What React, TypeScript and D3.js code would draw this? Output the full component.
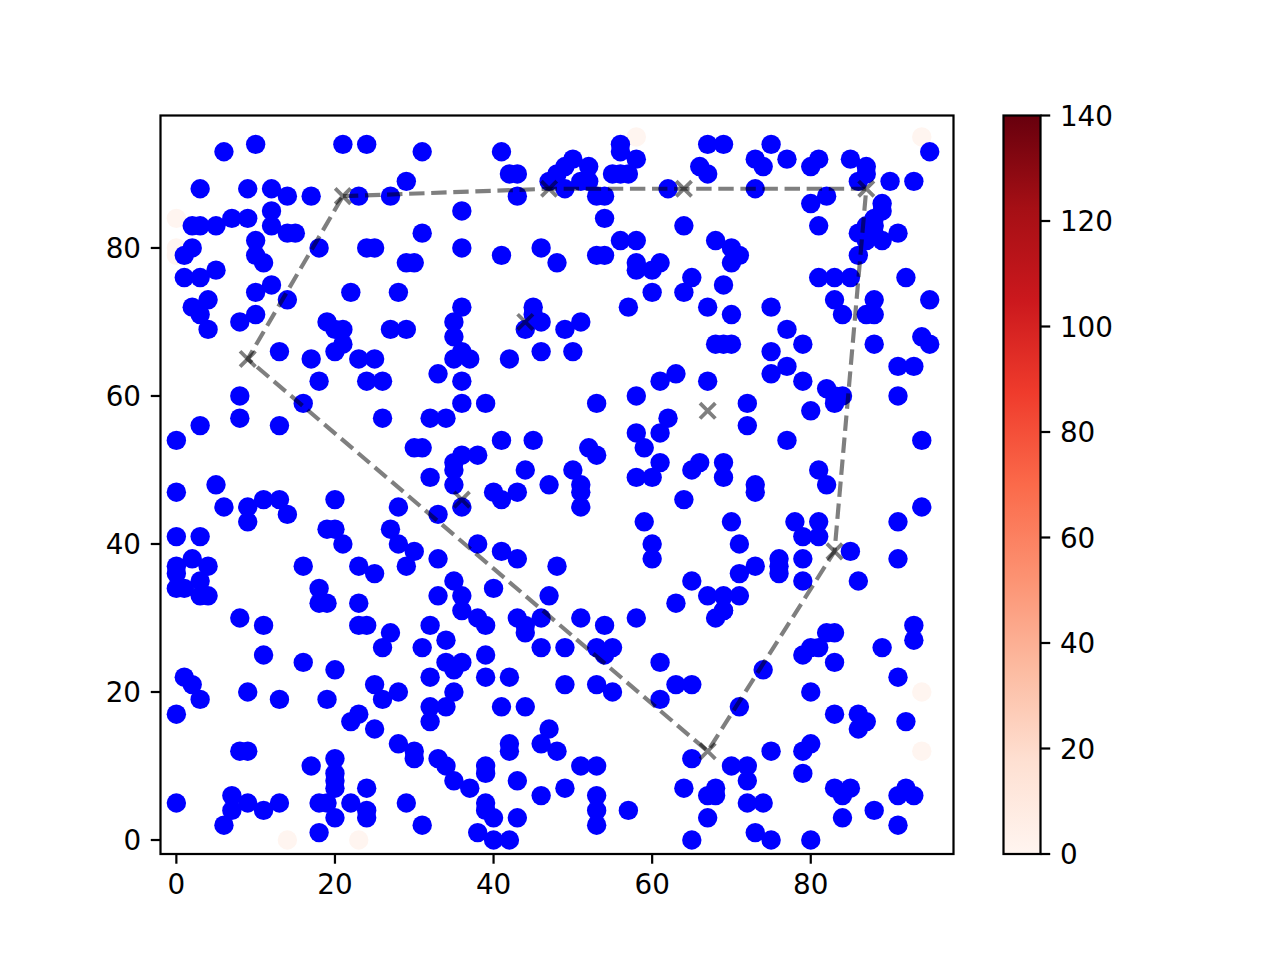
import React from "react";
import * as d3 from "d3";

const xTicks = [0, 20, 40, 60, 80];
const yTicks = [0, 20, 40, 60, 80];
const barTicks = [0, 20, 40, 60, 80, 100, 120, 140];
const redsStops = ["#fff5f0", "#fee0d2", "#fcbba1", "#fc9272", "#fb6a4a", "#ef3b2c", "#cb181d", "#a50f15", "#67000d"];

const faintPoints: [number, number][] = [[0,84],[0,80],[0,79],[14,0],[23,0],[58,95],[94,95],[94,20],[94,12]];

const bluePoints: [number, number][] = [
[6,93],[10,94],[21,94],[24,94],[31,93],[3,88],[9,88],[12,88],[14,87],[17,87],[23,87],[27,87],[29,89],[12,85],[12,83],[2,83],[3,83],[5,83],[7,84],[9,84],[14,82],[15,82],[31,82],[18,80],[24,80],[25,80],[10,81],[10,79],[11,78],[2,80],[1,79],[29,78],[30,78],[1,76],[3,76],[5,77],[12,75],[10,74],[22,74],[28,74],[4,73],[2,72],[3,71],[4,69],[14,73],[10,71],[8,70],[19,70],[20,69],[21,69],[21,67],[20,66],[23,65],[25,65],[27,69],[29,69],[13,66],[17,65],[18,62],[24,62],[26,62],
[41,93],[42,90],[43,90],[43,87],[36,85],[36,80],[41,79],[46,80],[48,78],[36,72],[35,70],[35,68],[36,66],[35,65],[37,65],[42,65],[45,72],[45,71],[46,70],[44,69],[49,69],[51,70],[46,66],[50,66],[57,72],[60,74],[58,78],[58,77],[60,77],[61,78],[53,79],[54,79],[56,81],[58,81],[54,84],[53,87],[54,87],[64,83],[62,88],[64,74],[65,76],[49,88],[47,89],[48,90],[49,91],[50,92],[52,91],[51,89],[52,89],[55,90],[56,90],[57,90],[56,94],[56,93],[58,92],
[67,94],[69,94],[75,94],[73,92],[74,91],[77,92],[81,92],[80,91],[85,92],[87,91],[87,90],[66,91],[67,90],[73,88],[86,89],[90,89],[93,89],[95,93],[82,87],[80,86],[81,83],[89,86],[89,85],[88,84],[88,83],[87,83],[86,82],[87,81],[89,81],[91,82],[88,82],[86,79],[68,81],[70,80],[71,79],[70,78],[69,75],[81,76],[83,76],[85,76],[92,76],[83,73],[84,71],[88,73],[87,71],[88,71],[95,73],[67,72],[70,71],[75,72],[77,69],[79,67],[68,67],[69,67],[70,67],[75,66],[77,64],[88,67],[94,68],[95,67],[91,64],[93,64],
[67,62],[72,59],[72,56],[75,63],[79,62],[82,61],[84,60],[83,59],[83,60],[80,58],[77,54],[91,60],[94,54],[81,50],[82,48],[69,51],[69,49],[66,51],[65,50],[73,48],[73,47],[64,46],[70,43],[71,40],[78,43],[81,43],[79,41],[81,41],[94,45],[91,43],[85,39],[91,38],[79,38],[79,35],[76,38],[76,37],[76,36],[86,35],[73,37],[71,36],[65,35],[67,33],[69,33],[71,33],[69,31],
[33,63],[36,62],[36,59],[39,59],[32,57],[34,57],[53,59],[58,60],[61,62],[63,63],[62,57],[61,55],[58,55],[59,53],[41,54],[45,54],[30,53],[31,53],[36,52],[38,52],[35,51],[35,50],[35,48],[52,53],[53,52],[32,49],[44,50],[50,50],[51,48],[51,47],[51,45],[47,48],[40,47],[43,47],[41,46],[58,49],[60,49],[61,51],[36,45],[33,44],[59,43],[60,40],[60,38],[38,40],[41,39],[43,38],[48,37],[33,38],[35,35],[36,33],[33,33],[40,34],[47,33],[63,32],
[8,60],[8,57],[3,56],[0,54],[13,56],[16,59],[26,57],[0,47],[5,48],[6,45],[9,45],[9,43],[11,46],[13,46],[14,44],[20,46],[28,45],[19,42],[20,42],[21,40],[27,42],[28,40],[30,39],[29,37],[0,41],[3,41],[2,38],[0,37],[4,37],[0,36],[3,35],[0,34],[1,34],[3,33],[4,33],[16,37],[23,37],[25,36],[18,34],[18,32],[19,32],[23,32],
[8,30],[11,29],[11,25],[16,24],[20,23],[23,29],[24,29],[27,28],[26,26],[31,26],[1,22],[2,21],[3,19],[0,17],[9,20],[13,19],[19,19],[23,17],[22,16],[25,15],[25,21],[28,20],[26,19],[32,18],[32,16],[28,13],[30,12],[30,11],[8,12],[9,12],[20,11],[17,10],[20,9],[20,8],[20,7],[24,7],[7,6],[7,4],[9,5],[11,4],[13,5],[0,5],[6,2],[18,5],[19,5],[20,3],[22,5],[24,4],[24,3],[29,5],[31,2],[18,1],
[36,31],[38,30],[39,29],[32,29],[43,30],[44,29],[44,28],[46,30],[51,30],[54,29],[58,30],[34,27],[39,25],[46,26],[49,26],[53,26],[54,25],[55,26],[34,24],[36,24],[35,23],[61,24],[32,22],[39,22],[42,22],[49,21],[53,21],[55,20],[35,20],[34,18],[61,19],[63,21],[65,21],[41,18],[44,18],[47,15],[46,13],[48,12],[42,13],[42,12],[33,11],[34,10],[35,8],[37,7],[39,10],[39,9],[43,8],[51,10],[53,10],[49,7],[46,6],[53,6],[53,4],[53,2],[57,4],[39,5],[39,4],[40,3],[43,3],[38,1],[40,0],[42,0],[64,7],[65,0],[65,11],
[68,30],[69,31],[74,23],[71,18],[70,10],[72,10],[72,8],[75,12],[82,28],[83,28],[81,26],[80,26],[79,25],[83,24],[89,26],[93,29],[93,27],[91,22],[80,20],[83,17],[86,17],[87,16],[86,15],[92,16],[80,13],[79,12],[79,9],[83,7],[85,7],[84,6],[84,3],[88,4],[91,6],[92,7],[93,6],[91,2],[68,7],[67,6],[68,6],[67,3],[72,5],[74,5],[73,1],[75,0],[80,0]
];

const hullPath: [number, number][] = [[21,87],[47,88],[64,88],[87,88],[83,39],[67,12],[9,65],[21,87]];
const extraCrosses: [number, number][] = [[44,70],[67,58],[36,46]];

const AX = { left: 160.5, right: 953.5, top: 115.5, bottom: 854 };
const BAR = { left: 1003.5, right: 1040.5 };
const FONT = "'DejaVu Sans', sans-serif";
const FS = 27.78;
const TICK = 9.72;
const LW = 2.22;

export default function App() {
  const x = d3.scaleLinear().domain([-2, 98]).range([AX.left, AX.right]);
  const y = d3.scaleLinear().domain([-1.89, 97.9]).range([AX.bottom, AX.top]);
  const barY = d3.scaleLinear().domain([0, 140]).range([AX.bottom, AX.top]);
  const line = d3.line<[number, number]>().x(d => x(d[0])).y(d => y(d[1]));
  const crosses = [...hullPath.slice(0, -1), ...extraCrosses];
  const m = 7.7;
  return (
    <svg width={1280} height={960} style={{ position: "absolute", left: 0, top: 0, background: "#fff" }} fontFamily={FONT} fontSize={FS}>
      <defs>
        <linearGradient id="reds" x1="0" y1="1" x2="0" y2="0">
          {redsStops.map((c, i) => <stop key={i} offset={i / (redsStops.length - 1)} stopColor={c} />)}
        </linearGradient>
        <clipPath id="ax"><rect x={AX.left} y={AX.top} width={AX.right - AX.left} height={AX.bottom - AX.top} /></clipPath>
      </defs>
      <g clipPath="url(#ax)">
        {faintPoints.map((d, i) => <circle key={i} cx={x(d[0])} cy={y(d[1])} r={9.7} fill={redsStops[0]} />)}
        {bluePoints.map((d, i) => <circle key={i} cx={x(d[0])} cy={y(d[1])} r={9.7} fill="#0000ff" />)}
        <path d={line(hullPath) ?? ""} fill="none" stroke="#000" strokeOpacity={0.5} strokeWidth={4.17} strokeDasharray="15.42 6.67" />
        {crosses.map((d, i) => (
          <path key={i} d={`M${x(d[0]) - m},${y(d[1]) - m}L${x(d[0]) + m},${y(d[1]) + m}M${x(d[0]) - m},${y(d[1]) + m}L${x(d[0]) + m},${y(d[1]) - m}`}
            stroke="#000" strokeOpacity={0.5} strokeWidth={3.8} fill="none" />
        ))}
      </g>
      <rect x={AX.left} y={AX.top} width={AX.right - AX.left} height={AX.bottom - AX.top} fill="none" stroke="#000" strokeWidth={LW} />
      {xTicks.map(t => (
        <g key={t}>
          <line x1={x(t)} x2={x(t)} y1={AX.bottom} y2={AX.bottom + TICK} stroke="#000" strokeWidth={LW} />
          <text x={x(t)} y={AX.bottom + 2 * TICK + 20.3} textAnchor="middle">{t}</text>
        </g>
      ))}
      {yTicks.map(t => (
        <g key={t}>
          <line x1={AX.left - TICK} x2={AX.left} y1={y(t)} y2={y(t)} stroke="#000" strokeWidth={LW} />
          <text x={AX.left - 2 * TICK} y={y(t) + 10.1} textAnchor="end">{t}</text>
        </g>
      ))}
      <rect x={BAR.left} y={AX.top} width={BAR.right - BAR.left} height={AX.bottom - AX.top} fill="url(#reds)" stroke="#000" strokeWidth={LW} />
      {barTicks.map(t => (
        <g key={t}>
          <line x1={BAR.right} x2={BAR.right + TICK} y1={barY(t)} y2={barY(t)} stroke="#000" strokeWidth={LW} />
          <text x={BAR.right + 2 * TICK} y={barY(t) + 10.1}>{t}</text>
        </g>
      ))}
    </svg>
  );
}
